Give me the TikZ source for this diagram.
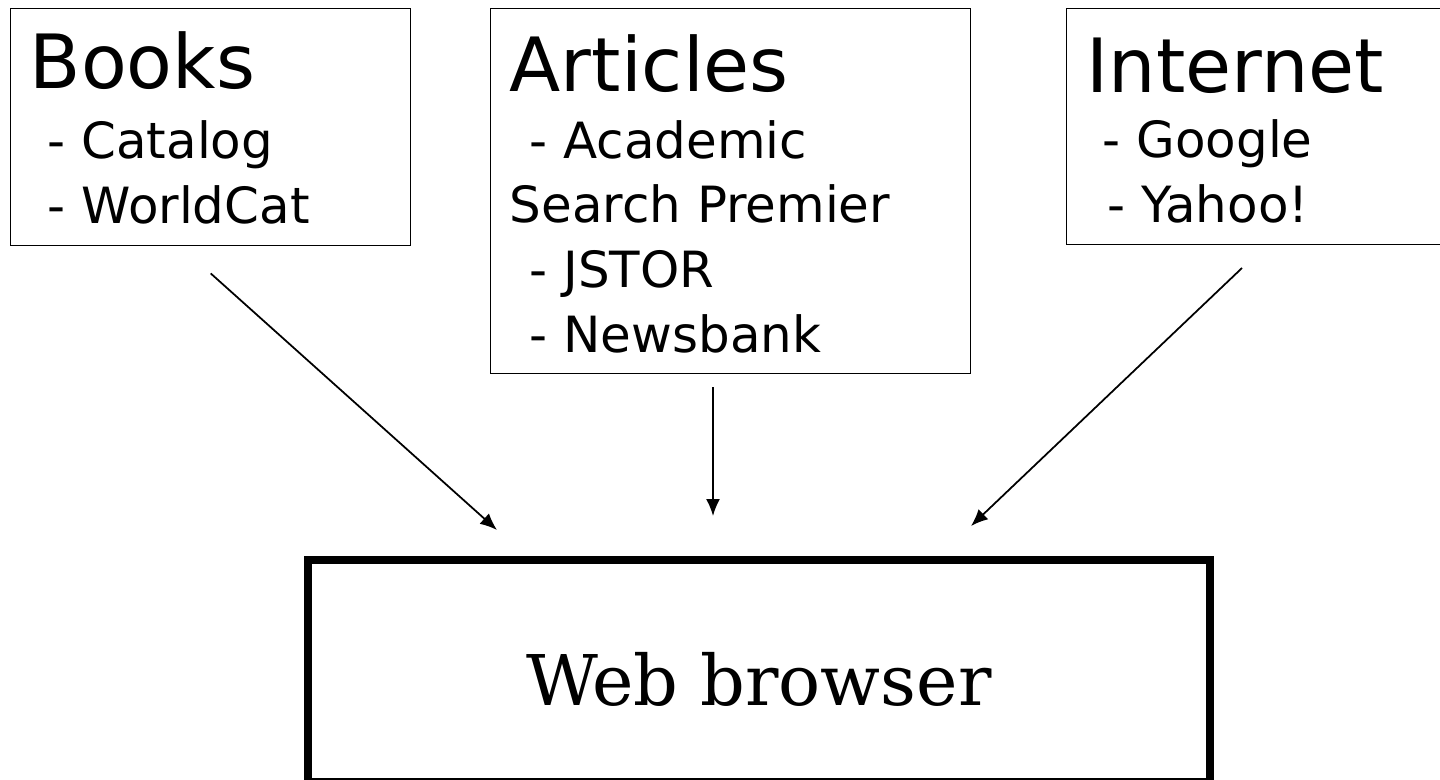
\documentclass[tikz,border=0pt]{standalone}
\usepackage{fontspec}
\setmainfont{DejaVu Sans}
\newfontfamily\webfont{DejaVu Serif}
\usetikzlibrary{positioning,arrows.meta}

\tikzset{
  srcbox/.style={draw, line width=0.4pt, anchor=north west, inner sep=0pt},
  srctxt/.style={anchor=base west, inner sep=0pt, align=left,
    font=\fontsize{14.2pt}{18.4pt}\selectfont},
  feed/.style={line width=0.5pt, -{Latex[length=0.17cm,width=0.14cm]}},
}
\newcommand{\hd}[1]{{\fontsize{21.3pt}{18.4pt}\selectfont #1}}

\begin{document}
\begin{tikzpicture}
    \useasboundingbox (0,0) rectangle (14.4,-7.79);
    % source boxes
    \node[srcbox, minimum width=4.0cm, minimum height=2.37cm] (books) at (0.10,-0.08) {};
    \node[srcbox, minimum width=4.8cm, minimum height=3.65cm] (articles) at (4.90,-0.08) {};
    \node[srcbox, minimum width=4.0cm, minimum height=2.365cm] (internet) at (10.66,-0.075) {};
    % texts sit on the baseline of their last line
    \node[srctxt] (bookstxt) at (0.29,-2.23) {\hd{Books}\\[0.05cm]
      \hspace*{0.18cm}- Catalog\\ \hspace*{0.18cm}- WorldCat};
    \node[srctxt] (articlestxt) at (5.09,-3.52) {\hd{Articles}\\[0.02cm]
      \hspace*{0.2cm}- Academic\\ Search Premier\\
      \hspace*{0.2cm}- JSTOR\\ \hspace*{0.2cm}- Newsbank};
    \node[srctxt] (internettxt) at (10.86,-2.22) {\hd{Internet}\\
      \hspace*{0.16cm}- Google\\ \hspace*{0.21cm}- Yahoo!};
    % browser
    \node[draw, line width=0.08cm, minimum width=9.025cm, minimum height=2.22cm,
      text height=0.68cm, text depth=0cm,
      font=\webfont\fontsize{19.9pt}{22pt}\selectfont] (web) at (7.5875,-6.71) {Web browser};
    % arrows
    \coordinate[below=0.27cm of books.south] (bookstail);
    \coordinate (bookshead) at (4.97,-5.30);
    \coordinate (articlestail) at (7.13,-3.87);
    \coordinate (articleshead) at (7.13,-5.16);
    \coordinate (internettail) at (12.42,-2.68);
    \coordinate (internethead) at (9.71,-5.26);
    \draw[feed] (bookstail) -- (bookshead);
    \draw[feed] (articlestail) -- (articleshead);
    \draw[feed] (internettail) -- (internethead);
\end{tikzpicture}
\end{document}
